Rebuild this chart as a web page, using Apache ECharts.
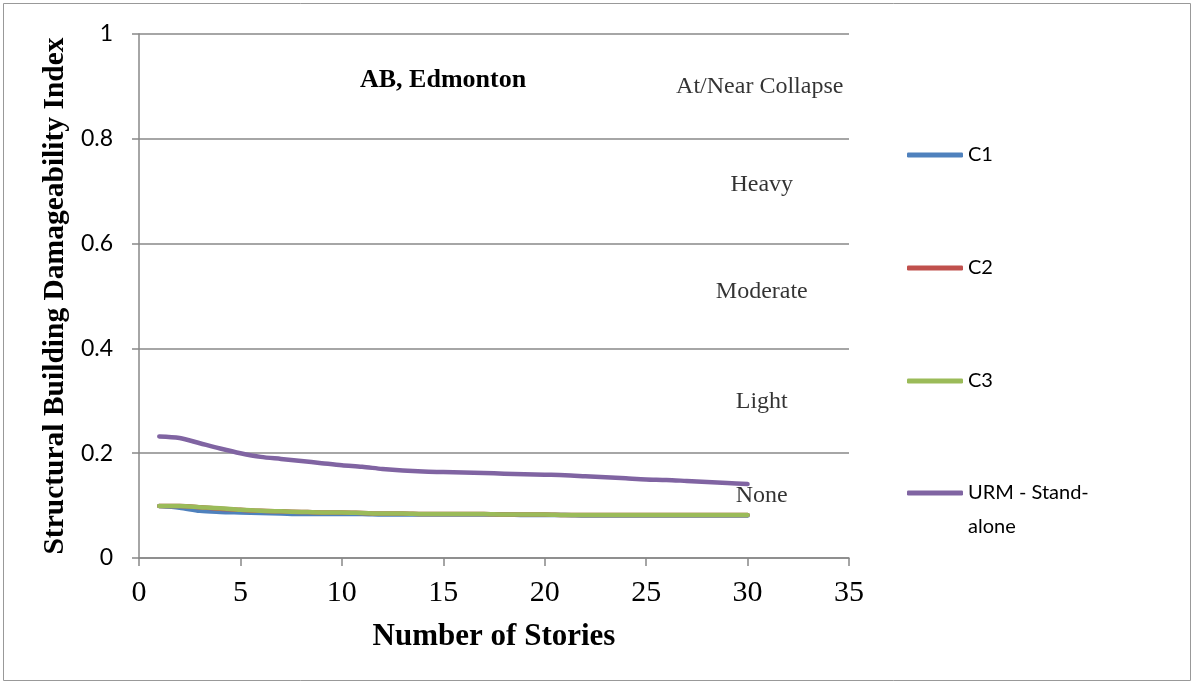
<!DOCTYPE html>
<html>
<head>
<meta charset="utf-8">
<script src="https://cdn.jsdelivr.net/npm/echarts@6/dist/echarts.min.js"></script>
<style>html,body{margin:0;padding:0;background:#fff;}#c{width:1194px;height:684px;}</style>
</head>
<body>
<div id="c"></div>
<script>
const stories = [1,2,3,4,5,6,7,8,9,10,11,12,13,14,15,16,17,18,19,20,21,22,23,24,25,26,27,28,29,30];
const c1 = [0.099,0.096,0.090,0.088,0.087,0.086,0.085,0.084,0.084,0.084,0.084,0.083,0.083,0.083,0.083,0.083,0.083,0.083,0.082,0.082,0.082,0.081,0.081,0.081,0.081,0.081,0.081,0.081,0.081,0.081];
const c2 = [0.099,0.099,0.097,0.094,0.092,0.090,0.089,0.088,0.087,0.087,0.086,0.085,0.085,0.084,0.084,0.084,0.084,0.083,0.083,0.083,0.082,0.082,0.082,0.082,0.082,0.082,0.082,0.082,0.082,0.082];
const c3 = [0.099,0.099,0.097,0.095,0.092,0.090,0.089,0.088,0.087,0.087,0.086,0.085,0.085,0.084,0.084,0.084,0.084,0.083,0.083,0.083,0.082,0.082,0.082,0.082,0.082,0.082,0.082,0.082,0.082,0.082];
const urm = [0.232,0.229,0.219,0.209,0.200,0.193,0.189,0.185,0.181,0.177,0.174,0.170,0.167,0.165,0.164,0.163,0.162,0.161,0.160,0.159,0.158,0.156,0.154,0.152,0.150,0.149,0.147,0.145,0.143,0.141];
const seriesNames = ['C1','C2','C3','URM - Stand-alone'];
const seriesColors = ['#4F81BD','#C0504D','#9BBB59','#8064A2'];
const damageLabels = ['At/Near Collapse','Heavy','Moderate','Light','None'];
const damageLabelX = [30.6,30.7,30.7,30.7,30.7];
const damageLabelY = [0.899,0.712,0.509,0.299,0.118];
const xTicks = {min:0,max:35,interval:5};
const yTicks = {min:0,max:1,interval:0.2};

const chart = echarts.init(document.getElementById('c'));
const allData = [c1,c2,c3,urm];
const series = allData.map((d,i)=>({
  name: seriesNames[i], type:'line', data: stories.map((s,j)=>[s,d[j]]),
  showSymbol:false, symbol:'none', smooth:0.3,
  lineStyle:{width:4.5, color:seriesColors[i], cap:'round', join:'round'},
  itemStyle:{color:seriesColors[i]}, z:2+i
}));
series.push({
  type:'scatter', name:'labels', symbolSize:0, silent:true,
  data: damageLabels.map((t,i)=>({value:[damageLabelX[i],damageLabelY[i]], name:t})),
  label:{show:true, position:'inside', formatter:p=>p.name, color:'#000',
    fontFamily:'Liberation Serif', fontSize:24}
});
const legendTops = [138,251,364,442];
const legends = seriesNames.map((n,i)=>({
  data:[{name:n}], orient:'vertical', left:907, top:legendTops[i],
  icon:'roundRect', itemWidth:56, itemHeight:5, itemGap:0, padding:0,
  selectedMode:false,
  formatter: n==='URM - Stand-alone' ? '\nURM - Stand-\nalone' : '{name}',
  textStyle:{fontFamily:'Lato', fontSize:20, color:'#000', lineHeight:34}
}));
chart.setOption({
  backgroundColor:'#fff',
  animation:false,
  title:{text:'AB, Edmonton', left:360, top:67, padding:0,
    textStyle:{fontFamily:'Liberation Serif', fontWeight:'bold', fontSize:26, color:'#000'}},
  graphic:[{type:'rect', shape:{x:3.5,y:3.5,width:1187,height:677}, style:{fill:null, stroke:'#999', lineWidth:1}, silent:true, z:-1}],
  legend: legends,
  grid:{left:139, right:345, top:34, bottom:126},
  xAxis:{type:'value', min:xTicks.min, max:xTicks.max, interval:xTicks.interval,
    name:'Number of Stories', nameLocation:'middle', nameGap:63,
    nameTextStyle:{fontFamily:'Liberation Serif', fontWeight:'bold', fontSize:31, color:'#000'},
    axisLine:{lineStyle:{color:'#888', width:1.5}},
    axisTick:{show:true, length:8, lineStyle:{color:'#888', width:1.5}},
    axisLabel:{fontFamily:'Liberation Serif', fontSize:30, color:'#000', margin:20},
    splitLine:{show:false}},
  yAxis:{type:'value', min:yTicks.min, max:yTicks.max, interval:yTicks.interval,
    name:'Structural Building Damageability Index', nameLocation:'middle', nameGap:66,
    nameTextStyle:{fontFamily:'Liberation Serif', fontWeight:'bold', fontSize:29.5, color:'#000'},
    axisLine:{show:true, lineStyle:{color:'#888', width:1.5}},
    axisTick:{show:true, inside:false, length:7, lineStyle:{color:'#888', width:1.5}},
    axisLabel:{fontFamily:'Lato', fontSize:23, color:'#000', margin:26},
    splitLine:{show:true, lineStyle:{color:'#888', width:1.5}}},
  series: series
});
</script>
</body>
</html>
